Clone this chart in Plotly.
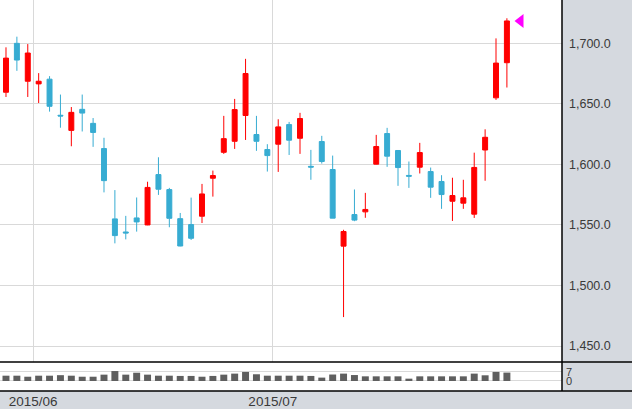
import plotly.graph_objects as go

dates = ["2015-05-27", "2015-05-28", "2015-05-29",
         "2015-06-01", "2015-06-02", "2015-06-03", "2015-06-04", "2015-06-05",
         "2015-06-08", "2015-06-09", "2015-06-10", "2015-06-11", "2015-06-12",
         "2015-06-15", "2015-06-16", "2015-06-17", "2015-06-18", "2015-06-19",
         "2015-06-22", "2015-06-23", "2015-06-24", "2015-06-25", "2015-06-26",
         "2015-06-29", "2015-06-30",
         "2015-07-01", "2015-07-02", "2015-07-03", "2015-07-06", "2015-07-07",
         "2015-07-08", "2015-07-09", "2015-07-10", "2015-07-13", "2015-07-14",
         "2015-07-15", "2015-07-16", "2015-07-17", "2015-07-21", "2015-07-22",
         "2015-07-23", "2015-07-24", "2015-07-27", "2015-07-28", "2015-07-29",
         "2015-07-30", "2015-07-31"]

opens = [1659.6, 1700.0, 1668.7, 1666.5, 1670.4, 1640.6, 1628.1, 1645.5, 1633.9, 1613.1,
         1555.0, 1544.2, 1555.8, 1550.0, 1591.6, 1579.2, 1555.2, 1550.3, 1557.2, 1588.6,
         1610.0, 1619.1, 1640.4, 1624.7, 1612.3, 1616.7, 1632.9, 1621.6, 1598.4, 1618.9,
         1595.8, 1532.5, 1558.6, 1560.8, 1600.2, 1625.5, 1611.5, 1590.9, 1597.7, 1594.1,
         1585.9, 1569.6, 1568.0, 1558.9, 1611.9, 1655.0, 1684.0]
highs = [1696.7, 1705.5, 1699.4, 1675.4, 1672.9, 1657.7, 1647.4, 1657.7, 1638.3, 1622.0,
         1578.8, 1557.5, 1572.7, 1585.7, 1605.9, 1580.6, 1559.9, 1572.6, 1583.9, 1594.9,
         1640.1, 1654.1, 1687.2, 1640.1, 1616.7, 1637.3, 1635.1, 1642.6, 1612.0, 1623.6,
         1607.3, 1546.0, 1579.3, 1576.5, 1624.4, 1630.2, 1611.8, 1602.4, 1617.8, 1597.4,
         1591.1, 1589.0, 1587.3, 1609.7, 1629.0, 1704.1, 1720.7]
lows = [1655.7, 1677.3, 1655.7, 1650.7, 1643.6, 1630.3, 1615.0, 1627.2, 1614.5, 1576.9,
        1534.8, 1538.1, 1544.5, 1549.8, 1574.8, 1548.1, 1532.4, 1537.6, 1551.6, 1573.4,
        1608.7, 1612.8, 1620.2, 1611.2, 1594.1, 1593.8, 1607.8, 1608.7, 1587.3, 1600.7,
        1555.6, 1473.9, 1553.1, 1555.9, 1600.0, 1598.0, 1582.3, 1580.6, 1592.5, 1572.4,
        1563.3, 1553.3, 1563.3, 1555.8, 1586.5, 1653.3, 1663.5]
closes = [1687.8, 1686.2, 1692.0, 1668.7, 1648.0, 1640.0, 1643.0, 1642.4, 1626.4, 1586.6,
          1541.2, 1543.4, 1552.5, 1581.0, 1579.5, 1555.5, 1532.6, 1539.0, 1575.6, 1590.8,
          1621.3, 1645.3, 1675.1, 1619.1, 1607.3, 1631.0, 1620.0, 1637.9, 1597.8, 1602.4,
          1555.6, 1544.6, 1554.0, 1562.8, 1614.8, 1606.8, 1597.4, 1590.3, 1609.8, 1581.2,
          1575.1, 1574.3, 1572.4, 1597.5, 1622.4, 1683.7, 1718.5]
volumes = [4.1, 4.1, 3.3, 4.1, 4.1, 4.5, 4.1, 3.3, 3.3, 4.9,
           7.7, 4.9, 6.4, 4.9, 4.1, 4.1, 3.9, 3.9, 3.3, 3.9,
           4.9, 5.7, 7.0, 5.2, 4.1, 4.1, 4.1, 4.1, 3.9, 2.6,
           5.0, 5.7, 4.6, 3.6, 3.6, 3.6, 3.6, 1.8, 3.6, 3.6,
           3.6, 3.6, 3.6, 5.7, 4.4, 7.0, 6.5]

month_labels = ["2015/06", "2015/07"]
price_ticks = [1450, 1500, 1550, 1600, 1650, 1700]
volume_ticks = [0, 7]

UP = "#ff0000"
DOWN = "#37acd2"
GRID = "#d9d9d9"
PANEL = "#d5d9df"
TEXT = "#3a3a3a"

idx = list(range(len(dates)))
# month boundaries between trading days
month_pos = [i - 0.5 for i in range(1, len(dates)) if dates[i][:7] != dates[i - 1][:7]]

fig = go.Figure()
fig.add_trace(go.Candlestick(
    x=idx, open=opens, high=highs, low=lows, close=closes,
    increasing=dict(line=dict(color=UP, width=1), fillcolor=UP),
    decreasing=dict(line=dict(color=DOWN, width=1), fillcolor=DOWN),
    whiskerwidth=0, xaxis="x", yaxis="y", showlegend=False, hoverinfo="skip"))
fig.add_trace(go.Bar(
    x=idx, y=volumes, marker=dict(color="#5f5f5f", line=dict(width=0)),
    width=0.64, xaxis="x2", yaxis="y2", showlegend=False, hoverinfo="skip"))
fig.add_trace(go.Scatter(
    x=[idx[-1] + 1.25], y=[closes[-1]], mode="markers",
    marker=dict(symbol="triangle-left", size=12, color="#ff00ff"),
    xaxis="x", yaxis="y", showlegend=False, hoverinfo="skip"))

W, H = 632, 409
plot_left, plot_right = 0, 562
main_top, main_bottom, vol_bottom = 0, 362, 391
vol_frac = (vol_bottom - main_bottom) / vol_bottom

xr = [-0.55, 51.06]
fig.update_layout(
    width=W, height=H,
    margin=dict(l=0, r=W - plot_right, t=0, b=H - vol_bottom, pad=0),
    paper_bgcolor=PANEL, plot_bgcolor="white",
    boxgap=0.35,
    xaxis=dict(domain=[0, 1], range=xr, anchor="y", showticklabels=False,
               tickvals=month_pos, showgrid=True, gridcolor=GRID, gridwidth=1,
               ticks="", zeroline=False, rangeslider=dict(visible=False),
               showline=False),
    xaxis2=dict(domain=[0, 1], range=xr, anchor="y2", matches="x",
                tickvals=month_pos, ticktext=month_labels, showgrid=False,
                ticks="", zeroline=False, showline=False,
                tickfont=dict(family="Arial", size=13.5, color=TEXT)),
    yaxis=dict(domain=[vol_frac, 1], range=[1436.8, 1735.8], side="right",
               anchor="x", tickvals=price_ticks, tickformat=",.1f",
               showgrid=True, gridcolor=GRID, gridwidth=1, ticks="",
               zeroline=False, showline=False, ticklabelstandoff=6,
               tickfont=dict(family="Arial", size=12.5, color=TEXT)),
    yaxis2=dict(domain=[0, vol_frac], range=[-7.76, 14.7], side="right",
                anchor="x2", tickvals=volume_ticks, showgrid=True,
                gridcolor=GRID, zeroline=False, ticks="", showline=False,
                ticklabelstandoff=3,
                tickfont=dict(family="Arial", size=11, color=TEXT)),
    shapes=[
        dict(type="line", xref="paper", yref="paper", x0=1, x1=1, y0=0, y1=1,
             line=dict(color="black", width=1.5)),
        dict(type="line", xref="paper", yref="paper", x0=0, x1=W / plot_right,
             y0=vol_frac, y1=vol_frac, line=dict(color="black", width=1.5)),
        dict(type="line", xref="paper", yref="paper", x0=0, x1=W / plot_right,
             y0=0, y1=0, line=dict(color="black", width=1.5)),
    ],
)

fig.write_html("out.html", config={"displayModeBar": False},
               post_script="document.body.style.margin='0';document.body.style.padding='0';")
